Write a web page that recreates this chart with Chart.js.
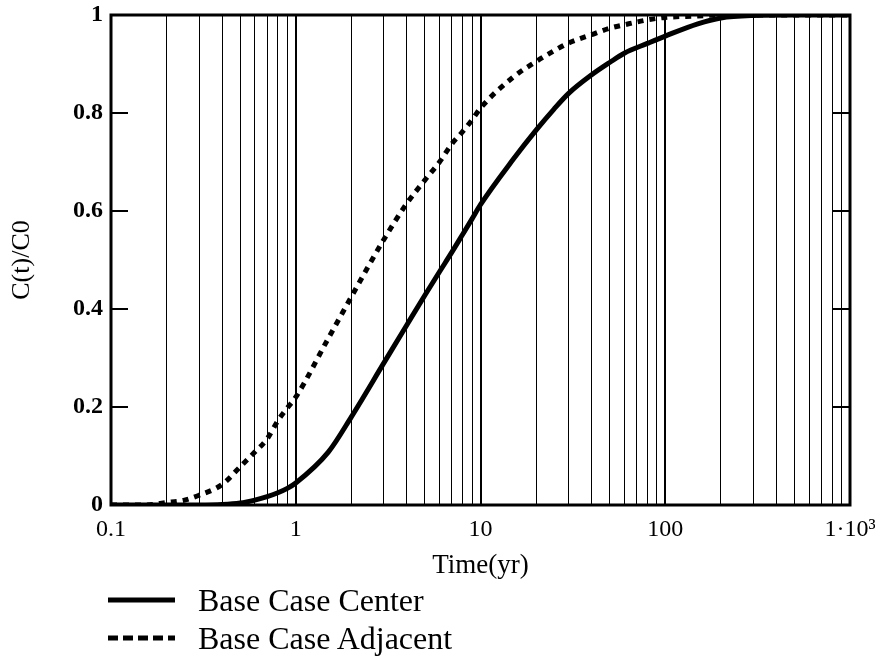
<!DOCTYPE html>
<html>
<head>
<meta charset="utf-8">
<script src="https://cdn.jsdelivr.net/npm/chart.js@4.4.1/dist/chart.umd.min.js"></script>
<style>
  body { margin: 0; background: #fff; }
  .wrap { position: relative; width: 875px; height: 658px; }
  #chart { position: absolute; left: 0; top: 0; }
  .legend { position: absolute; left: 108px; top: 581px; font: 32px "Liberation Serif", "Times New Roman", serif; color: #000; }
  .legend-item { display: flex; align-items: center; height: 38px; white-space: nowrap; }
  .legend-item svg { width: 67px; height: 10px; margin-right: 23px; }
</style>
</head>
<body>
<div class="wrap">
  <canvas id="chart" width="875" height="590"></canvas>
  <div class="legend" id="legend"></div>
</div>
<script>
// time in years (log axis)
const times = [0.1, 0.15, 0.2, 0.25, 0.3, 0.4, 0.5, 0.6, 0.7, 0.8, 0.9, 1, 1.5, 2, 3, 4, 5, 6, 7, 8, 9, 10,
  15, 20, 25, 30, 40, 50, 60, 80, 100, 150, 200, 300, 500, 1000];
const centerVals = [0, 0, 0, 0, 0, 0.001, 0.004, 0.01, 0.017, 0.025, 0.034, 0.045, 0.108, 0.18, 0.29, 0.368,
  0.428, 0.476, 0.516, 0.552, 0.584, 0.613, 0.705, 0.765, 0.808, 0.84, 0.878, 0.903, 0.922, 0.942, 0.957, 0.982,
  0.994, 0.999, 1, 1];
const adjacentVals = [0, 0, 0.005, 0.01, 0.02, 0.042, 0.078, 0.108, 0.135, 0.172, 0.198, 0.22, 0.34, 0.425,
  0.542, 0.616, 0.663, 0.70, 0.737, 0.762, 0.786, 0.81, 0.873, 0.905, 0.927, 0.943, 0.96, 0.973, 0.98, 0.99,
  0.995, 0.998, 1, 1, 1, 1];

const decadeTicks = [0.1, 1, 10, 100, 1000];
const decadeLabels = ["0.1", "1", "10", "100", "1\u00b710\u00b3"];
const yTicks = [0, 0.2, 0.4, 0.6, 0.8, 1];
const yTickLabels = ["0", "0.2", "0.4", "0.6", "0.8", "1"];

const serif = '"Liberation Serif", "Times New Roman", serif';

// gridlines at 1..9 of each decade
const gridVals = [];
decadeTicks.slice(0, -1).forEach(function (d) {
  for (let k = 1; k < 10; k++) gridVals.push(k * d);
});
gridVals.push(1000);

function decadeIndex(v) {
  return decadeTicks.findIndex((d) => Math.abs(v / d - 1) < 1e-6);
}

// frame + inward y ticks on both sides
const framePlugin = {
  id: "frame",
  afterDraw(chart) {
    const { ctx, chartArea: a, scales } = chart;
    ctx.save();
    ctx.strokeStyle = "#000";
    ctx.lineWidth = 2;
    yTicks.slice(1, -1).forEach(function (v) {
      const y = scales.y.getPixelForValue(v);
      ctx.beginPath();
      ctx.moveTo(a.left, y);
      ctx.lineTo(a.left + 17, y);
      ctx.moveTo(a.right, y);
      ctx.lineTo(a.right - 17, y);
      ctx.stroke();
    });
    ctx.lineWidth = 3;
    ctx.strokeRect(a.left, a.top, a.right - a.left, a.bottom - a.top);
    ctx.restore();
  },
};

const chart = new Chart(document.getElementById("chart"), {
  type: "line",
  data: {
    datasets: [
      {
        label: "Base Case Center",
        data: times.map((t, i) => ({ x: t, y: centerVals[i] })),
        borderColor: "#000",
        borderWidth: 5,
        pointRadius: 0,
        cubicInterpolationMode: "monotone",
      },
      {
        label: "Base Case Adjacent",
        data: times.map((t, i) => ({ x: t, y: adjacentVals[i] })),
        borderColor: "#000",
        borderWidth: 5,
        borderDash: [6, 6],
        pointRadius: 0,
        cubicInterpolationMode: "monotone",
      },
    ],
  },
  options: {
    responsive: false,
    animation: false,
    layout: { padding: { top: 15, right: 25, bottom: 0, left: 0 } },
    plugins: { legend: { display: false }, tooltip: { enabled: false } },
    scales: {
      x: {
        type: "logarithmic",
        min: 0.1,
        max: 1000,
        afterBuildTicks: function (scale) {
          scale.ticks = gridVals.map((v) => ({ value: v }));
        },
        afterFit: function (scale) {
          scale.height = 85;
          scale.paddingLeft = 0;
          scale.paddingRight = 0;
        },
        ticks: {
          autoSkip: false,
          maxRotation: 0,
          padding: 10,
          color: "#000",
          font: { family: serif, size: 24 },
          callback: function (value) {
            const i = decadeIndex(value);
            return i >= 0 ? decadeLabels[i] : "";
          },
        },
        grid: {
          color: "#000",
          drawTicks: false,
          lineWidth: function (ctx) {
            return ctx.tick && decadeIndex(ctx.tick.value) >= 0 ? 2 : 1;
          },
        },
        border: { display: false },
        title: {
          display: true,
          text: "Time(yr)",
          color: "#000",
          font: { family: serif, size: 27 },
          padding: { top: 0, bottom: 8 },
        },
      },
      y: {
        min: 0,
        max: 1,
        afterBuildTicks: function (scale) {
          scale.ticks = yTicks.map((v) => ({ value: v }));
        },
        afterFit: function (scale) {
          scale.width = 111;
          scale.paddingTop = 0;
          scale.paddingBottom = 0;
        },
        ticks: {
          padding: 8,
          color: "#000",
          font: { family: serif, size: 24, weight: "bold" },
          callback: function (value) {
            const i = yTicks.findIndex((v) => Math.abs(v - value) < 1e-9);
            return i >= 0 ? yTickLabels[i] : "";
          },
        },
        grid: { display: false, drawTicks: false },
        border: { display: false },
        title: {
          display: true,
          text: "C(t)/C0",
          color: "#000",
          font: { family: serif, size: 26 },
          padding: { top: 7, bottom: 0 },
        },
      },
    },
  },
  plugins: [framePlugin],
});

// legend built from the chart datasets
const legendEl = document.getElementById("legend");
chart.data.datasets.forEach(function (ds) {
  const item = document.createElement("div");
  item.className = "legend-item";
  const dash = ds.borderDash ? 'stroke-dasharray="10 5"' : "";
  item.innerHTML =
    '<svg viewBox="0 0 67 10"><line x1="0" y1="5" x2="67" y2="5" stroke="#000" stroke-width="5" ' +
    dash + "/></svg><span>" + ds.label + "</span>";
  legendEl.appendChild(item);
});
</script>
</body>
</html>
